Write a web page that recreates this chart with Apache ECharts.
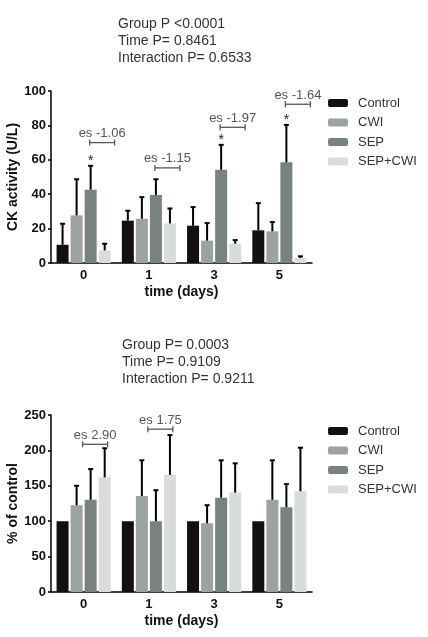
<!DOCTYPE html>
<html>
<head>
<meta charset="utf-8">
<script src="https://cdn.jsdelivr.net/npm/echarts@6/dist/echarts.min.js"></script>
<style>
  html, body { margin: 0; padding: 0; background: #fff; }
  #chart { width: 428px; height: 637px; }
</style>
</head>
<body>
<div id="chart"></div>
<script>
// data
const categories = ['0', '1', '3', '5'];
const groupNames = ['Control', 'CWI', 'SEP', 'SEP+CWI'];
const groupColors = ['#111111', '#9ba2a2', '#78827e', '#d9dcdb'];

// CK activity (U/L): mean and SD
const ckControl = [10.6, 24.6, 21.7, 19.0];
const ckControlSd = [12.2, 5.8, 10.8, 15.8];
const ckCwi = [27.7, 25.7, 13.0, 18.4];
const ckCwiSd = [21.0, 12.6, 10.2, 5.4];
const ckSep = [42.6, 39.5, 54.2, 58.6];
const ckSepSd = [13.9, 9.2, 14.5, 21.7];
const ckSepCwi = [7.3, 23.0, 11.2, 2.9];
const ckSepCwiSd = [3.9, 8.7, 2.1, 1.0];
const ckStars = [[0, 2], [2, 2], [3, 2]]; // [category, group]
const ckBracketCat = [0, 1, 2, 3];
const ckBracketY = [70, 55.3, 78.9, 92.3];
const ckBracketText = ['es -1.06', 'es -1.15', 'es -1.97', 'es -1.64'];

// % of control: mean and SD
const pcControl = [100, 100, 100, 100];
const pcControlSd = [0, 0, 0, 0];
const pcCwi = [122.6, 135.6, 97.0, 130.3];
const pcCwiSd = [27.4, 50.4, 25.6, 55.7];
const pcSep = [130.3, 100, 133.2, 119.7];
const pcSepSd = [43.3, 43.8, 52.8, 32.7];
const pcSepCwi = [162, 165.4, 140.4, 142.3];
const pcSepCwiSd = [41, 56.2, 41.3, 61.5];
const pcBracketCat = [0, 1];
const pcBracketY = [208.6, 230];
const pcBracketText = ['es 2.90', 'es 1.75'];

const ckTicks = { min: 0, max: 100, interval: 20 };
const pcTicks = { min: 0, max: 250, interval: 50 };

const BAR_W = 12;
const BAR_GAP = 0.17;
const STEP = BAR_W * (1 + BAR_GAP);
const FONT = 'Liberation Sans, Arial, sans-serif';

function barX(api, cat, val, g) {
  const p = api.coord([cat, val]);
  return [p[0] + (g - 1.5) * STEP, p[1]];
}

function errorSeries(gi, means, sds) {
  const data = [];
  means.forEach((m, g) => {
    m.forEach((v, c) => {
      if (sds[g][c] > 0) data.push([c, g, v, v + sds[g][c]]);
    });
  });
  return {
    type: 'custom', xAxisIndex: gi, yAxisIndex: gi, z: 5, clip: false,
    silent: true,
    encode: { x: 0, y: 3 },
    data: data,
    renderItem(params, api) {
      const c = api.value(0), g = api.value(1);
      const b = barX(api, c, api.value(2), g);
      const t = barX(api, c, api.value(3), g);
      return {
        type: 'group',
        children: [
          { type: 'line', shape: { x1: b[0], y1: b[1], x2: t[0], y2: t[1] },
            style: { stroke: '#000', lineWidth: 2 } },
          { type: 'line', shape: { x1: t[0] - 2.5, y1: t[1], x2: t[0] + 2.5, y2: t[1] },
            style: { stroke: '#000', lineWidth: 2 } }
        ]
      };
    }
  };
}

function starSeries(gi, stars, means, sds) {
  return {
    type: 'custom', xAxisIndex: gi, yAxisIndex: gi, z: 6, clip: false, silent: true,
    encode: { x: 0, y: 2 },
    data: stars.map(s => [s[0], s[1], means[s[1]][s[0]] + sds[s[1]][s[0]]]),
    renderItem(params, api) {
      const t = barX(api, api.value(0), api.value(2), api.value(1));
      return {
        type: 'text', x: t[0], y: t[1] - 5,
        style: { text: '*', fill: '#222', font: '14px ' + FONT, align: 'center', verticalAlign: 'middle' }
      };
    }
  };
}

function bracketSeries(gi, cats, ys, texts, startOff) {
  return {
    type: 'custom', xAxisIndex: gi, yAxisIndex: gi, z: 6, clip: false, silent: true,
    encode: { x: 0, y: 1 },
    data: cats.map((c, i) => [c, ys[i]]),
    renderItem(params, api) {
      const p = api.coord([api.value(0), api.value(1)]);
      const x1 = p[0] + startOff, x2 = x1 + 25, y = p[1];
      const ln = { stroke: '#555', lineWidth: 1.3 };
      return {
        type: 'group',
        children: [
          { type: 'line', shape: { x1: x1, y1: y, x2: x2, y2: y }, style: ln },
          { type: 'line', shape: { x1: x1, y1: y - 3, x2: x1, y2: y + 3 }, style: ln },
          { type: 'line', shape: { x1: x2, y1: y - 3, x2: x2, y2: y + 3 }, style: ln },
          { type: 'text', x: (x1 + x2) / 2, y: y - 9,
            style: { text: texts[params.dataIndex], fill: '#555', font: '13px ' + FONT,
                     align: 'center', verticalAlign: 'middle' } }
        ]
      };
    }
  };
}

function barSeries(gi, means) {
  return means.map((m, g) => ({
    name: groupNames[g], type: 'bar', xAxisIndex: gi, yAxisIndex: gi,
    barWidth: BAR_W, barGap: (BAR_GAP * 100) + '%',
    itemStyle: { color: groupColors[g] },
    data: m
  }));
}

function xAxis(gi) {
  return {
    type: 'category', gridIndex: gi, data: categories,
    name: 'time (days)', nameLocation: 'middle', nameGap: 22, nameMoveOverlap: false,
    nameTextStyle: { fontFamily: FONT, fontSize: 14, fontWeight: 'bold', color: '#111' },
    axisLine: { lineStyle: { color: '#000', width: 1.5 } },
    axisTick: { alignWithLabel: true, length: 3, lineStyle: { color: '#000', width: 1.5 } },
    axisLabel: { fontFamily: FONT, fontSize: 13, fontWeight: 'bold', color: '#111', margin: 6 }
  };
}

function yAxis(gi, name, ticks) {
  return {
    type: 'value', gridIndex: gi, min: ticks.min, max: ticks.max, interval: ticks.interval,
    name: name, nameLocation: 'middle', nameGap: 31, nameMoveOverlap: false,
    nameTextStyle: { fontFamily: FONT, fontSize: 14, fontWeight: 'bold', color: '#111' },
    splitLine: { show: false },
    axisLine: { show: true, lineStyle: { color: '#000', width: 1.5 } },
    axisTick: { show: true, length: 3, lineStyle: { color: '#000', width: 1.5 } },
    axisLabel: { fontFamily: FONT, fontSize: 13, fontWeight: 'bold', color: '#111', margin: 5 }
  };
}

function legend(top) {
  return {
    orient: 'vertical', left: 328, top: top, padding: 0, itemGap: 6.5,
    itemWidth: 20, itemHeight: 8, icon: 'roundRect',
    data: groupNames,
    textStyle: { fontFamily: FONT, fontSize: 13, color: '#333', padding: [0, 0, 0, 5] }
  };
}

const ckMeans = [ckControl, ckCwi, ckSep, ckSepCwi];
const ckSds = [ckControlSd, ckCwiSd, ckSepSd, ckSepCwiSd];
const pcMeans = [pcControl, pcCwi, pcSep, pcSepCwi];
const pcSds = [pcControlSd, pcCwiSd, pcSepSd, pcSepCwiSd];

const chart = echarts.init(document.getElementById('chart'));
chart.setOption({
  animation: false,
  backgroundColor: '#fff',
  title: [
    { text: 'Group P <0.0001\nTime P= 0.8461\nInteraction P= 0.6533', left: 118, top: 16, padding: 0,
      textStyle: { fontFamily: FONT, fontSize: 14, fontWeight: 'normal', color: '#333', lineHeight: 17 } },
    { text: 'Group P= 0.0003\nTime P= 0.9109\nInteraction P= 0.9211', left: 122, top: 337, padding: 0,
      textStyle: { fontFamily: FONT, fontSize: 14, fontWeight: 'normal', color: '#333', lineHeight: 17 } }
  ],
  legend: [legend(96.5), legend(424.5)],
  grid: [
    { left: 51, width: 261, top: 91, height: 172, outerBoundsMode: 'none' },
    { left: 51, width: 261, top: 415, height: 177, outerBoundsMode: 'none' }
  ],
  xAxis: [xAxis(0), xAxis(1)],
  yAxis: [yAxis(0, 'CK activity (U/L)', ckTicks), yAxis(1, '% of control', pcTicks)],
  series: [
    ...barSeries(0, ckMeans),
    ...barSeries(1, pcMeans),
    errorSeries(0, ckMeans, ckSds),
    errorSeries(1, pcMeans, pcSds),
    starSeries(0, ckStars, ckMeans, ckSds),
    bracketSeries(0, ckBracketCat, ckBracketY, ckBracketText, 6),
    bracketSeries(1, pcBracketCat, pcBracketY, pcBracketText, -1)
  ]
});
</script>
</body>
</html>
